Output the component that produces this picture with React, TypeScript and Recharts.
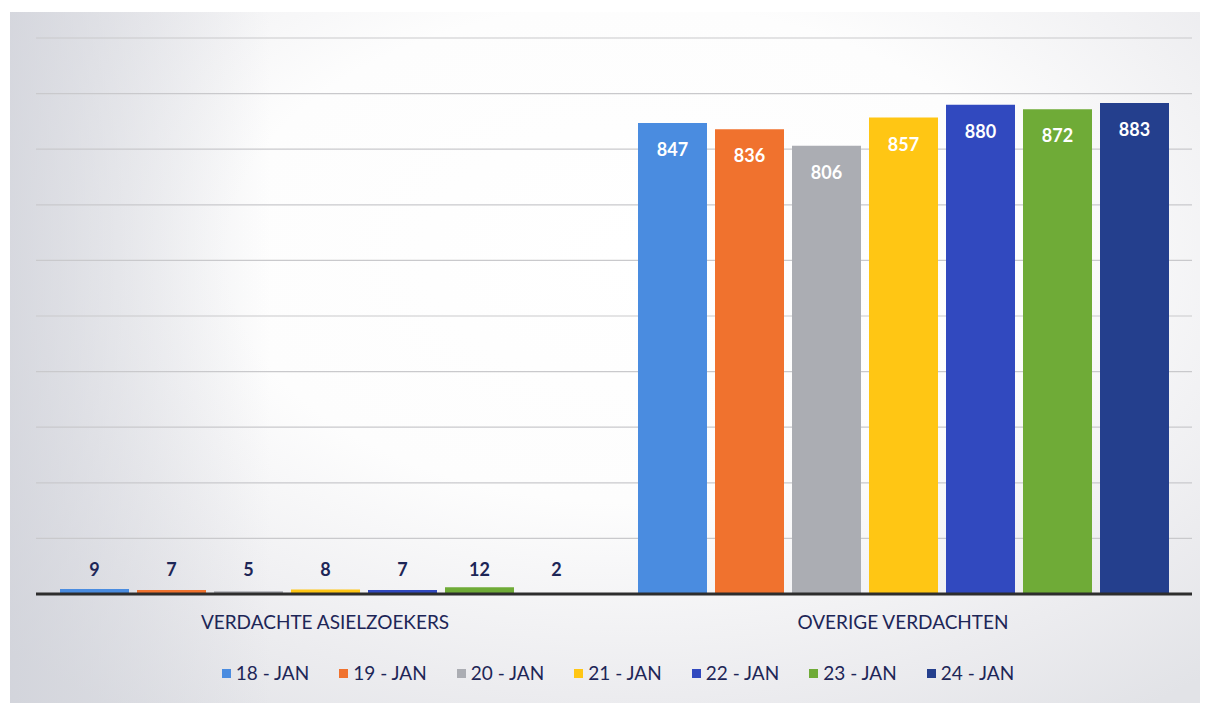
import React from "react";
import { BarChart, Bar, XAxis, YAxis, CartesianGrid, LabelList } from "recharts";

const categories = ["VERDACHTE ASIELZOEKERS", "OVERIGE VERDACHTEN"];
const seriesNames = ["18 - JAN", "19 - JAN", "20 - JAN", "21 - JAN", "22 - JAN", "23 - JAN", "24 - JAN"];
const jan18 = [9, 847];
const jan19 = [7, 836];
const jan20 = [5, 806];
const jan21 = [8, 857];
const jan22 = [7, 880];
const jan23 = [12, 872];
const jan24 = [2, 883];
const yTicks = [0, 100, 200, 300, 400, 500, 600, 700, 800, 900, 1000];
const colors = ["#4A8CE0", "#F0722E", "#ABADB3", "#FFC614", "#3149BF", "#6FAB37", "#243F8D"];

const seriesValues = [jan18, jan19, jan20, jan21, jan22, jan23, jan24];
const keys = ["d18", "d19", "d20", "d21", "d22", "d23", "d24"];
const data = categories.map((c, i) => {
  const row: any = { name: c };
  keys.forEach((k, s) => (row[k] = seriesValues[s][i]));
  return row;
});

const FONT = "Lato, 'Open Sans', sans-serif";
const NAVY = "#1D2657";

const renderLabel = (props: any) => {
  const { x, y, width, height, value } = props;
  const cx = x + width / 2;
  const base = y + height;
  if (value < 100) {
    return (
      <text x={cx} y={base - 25} textAnchor="middle" dominantBaseline="central" fill={NAVY} fontFamily={FONT} fontWeight={700} fontSize={18}>
        {value}
      </text>
    );
  }
  return (
    <text x={cx} y={y + 26} textAnchor="middle" dominantBaseline="central" fill="#FFFFFF" fontFamily={FONT} fontWeight={700} fontSize={18}>
      {value}
    </text>
  );
};

export default function App() {
  return (
    <div style={{ position: "relative", width: 1208, height: 703, margin: "-8px 0 0 -8px", background: "#ffffff", overflow: "hidden" }}>
      <div
        style={{
          position: "absolute",
          left: 10,
          top: 12,
          width: 1193,
          height: 691,
          background:
            "radial-gradient(ellipse 75% 80% at 52% 35%, #ffffff 0%, #fdfdfd 45%, #ececef 80%, #e2e3e7 100%)",
        }}
      />
      <div
        style={{
          position: "absolute",
          left: 10,
          top: 12,
          width: 260,
          height: 691,
          background: "linear-gradient(to right, rgba(206,208,216,0.75), rgba(220,221,228,0.0))",
        }}
      />
      <div style={{ position: "absolute", left: 0, top: 0 }}>
        <BarChart
          width={1208}
          height={703}
          data={data}
          margin={{ top: 38, right: 16, left: 36, bottom: 79 }}
          barSize={69}
          barGap={8}
        >
          <CartesianGrid horizontal={true} vertical={false} stroke="#c9c9cc" strokeWidth={1.2} />
          <YAxis hide domain={[0, 1000]} ticks={yTicks} width={0} />
          <XAxis
            dataKey="name"
            height={30}
            tickLine={false}
            axisLine={{ stroke: "#2d2d2d", strokeWidth: 3 }}
            tick={{ fill: NAVY, fontFamily: FONT, fontSize: 19 }}
            dy={14}
          />
          {keys.map((k, i) => (
            <Bar key={k} dataKey={k} name={seriesNames[i]} fill={colors[i]} isAnimationActive={false}>
              <LabelList dataKey={k} content={renderLabel} />
            </Bar>
          ))}
        </BarChart>
      </div>
      <div
        style={{
          position: "absolute",
          left: 36,
          width: 1164,
          top: 661,
          display: "flex",
          justifyContent: "center",
          gap: 30,
          fontFamily: FONT,
          fontSize: 19,
          color: NAVY,
          lineHeight: "24px",
        }}
      >
        {seriesNames.map((n, i) => (
          <div key={n} style={{ display: "flex", alignItems: "center" }}>
            <span style={{ width: 9, height: 9, background: colors[i], display: "inline-block", marginRight: 5 }} />
            <span>{n}</span>
          </div>
        ))}
      </div>
    </div>
  );
}
